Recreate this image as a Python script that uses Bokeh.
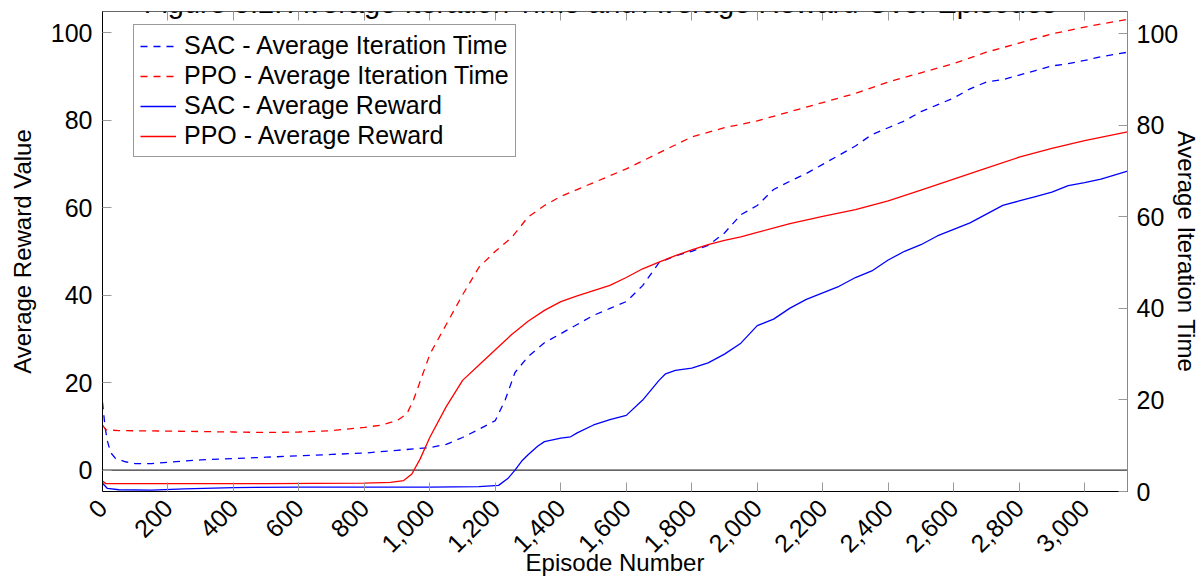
import math
from bokeh.plotting import figure
from bokeh.models import Range1d, LinearAxis, FixedTicker, NumeralTickFormatter, Span, Label
from bokeh.embed import file_html
from bokeh.resources import INLINE

# ---------------- data ----------------
title_text = "Figure 5.2: Average Iteration Time and Average Reward Over Episodes"

x_ticks = [0, 200, 400, 600, 800, 1000, 1200, 1400, 1600, 1800, 2000, 2200, 2400, 2600, 2800, 3000]
left_ticks = [0, 20, 40, 60, 80, 100]
right_ticks = [0, 20, 40, 60, 80, 100]

# SAC - Average Iteration Time (right axis)
sac_time_ep = [0, 8, 15, 25, 40, 70, 100, 150, 200, 300, 400, 500, 600, 700, 800, 900, 1000, 1050,
               1100, 1150, 1200, 1230, 1260, 1300, 1350, 1400, 1450, 1500, 1550, 1600, 1650, 1700,
               1750, 1800, 1850, 1900, 1950, 2000, 2050, 2100, 2150, 2200, 2250, 2300, 2350, 2400,
               2450, 2500, 2550, 2600, 2650, 2700, 2750, 2800, 2850, 2900, 2950, 3000, 3050, 3131]
sac_time = [19.5, 14.0, 11.0, 8.5, 7.2, 6.5, 6.1, 6.1, 6.4, 6.9, 7.2, 7.5, 7.8, 8.1, 8.4, 9.0, 9.6, 10.3,
            11.8, 13.6, 15.5, 20.0, 26.0, 29.5, 32.5, 34.5, 36.5, 38.5, 40.0, 41.5, 45.0, 50.0,
            51.5, 52.5, 53.8, 56.5, 60.5, 62.5, 66.0, 67.8, 69.5, 71.5, 73.5, 75.5, 78.0, 79.5,
            81.0, 83.0, 84.5, 86.0, 88.0, 89.5, 90.0, 91.0, 92.0, 93.0, 93.5, 94.2, 95.0, 96.0]

# PPO - Average Iteration Time (right axis)
ppo_time_ep = [0, 10, 50, 200, 400, 500, 600, 700, 800, 850, 900, 930, 950, 975, 1000, 1050, 1100,
               1150, 1200, 1250, 1300, 1350, 1400, 1500, 1600, 1700, 1800, 1900, 2000, 2100, 2200,
               2300, 2400, 2500, 2600, 2700, 2800, 2900, 3000, 3131]
ppo_time = [14.5, 13.5, 13.3, 13.2, 13.0, 12.9, 13.0, 13.3, 14.0, 14.5, 15.5, 17.0, 20.0, 25.0, 30.0,
            36.5, 43.0, 49.0, 52.5, 55.5, 60.0, 62.5, 64.5, 67.5, 70.5, 74.0, 77.5, 79.5, 81.0, 83.0,
            85.0, 87.0, 89.5, 91.5, 93.5, 96.0, 98.0, 100.0, 101.5, 103.2]

# SAC - Average Reward (left axis)
sac_reward_ep = [0, 15, 50, 150, 250, 400, 600, 800, 1000, 1150, 1210, 1240, 1260, 1280, 1300, 1330,
                 1350, 1400, 1430, 1450, 1500, 1550, 1600, 1650, 1700, 1720, 1750, 1800, 1850, 1900,
                 1950, 2000, 2050, 2100, 2150, 2200, 2250, 2300, 2350, 2400, 2450, 2500, 2550, 2600,
                 2650, 2700, 2750, 2800, 2850, 2900, 2950, 3000, 3050, 3131]
sac_reward = [-3.0, -4.2, -4.5, -4.6, -4.3, -4.0, -3.9, -3.9, -3.9, -3.8, -3.5, -1.8, 0.0, 2.0, 3.5, 5.5,
              6.5, 7.3, 7.6, 8.5, 10.3, 11.5, 12.5, 16.0, 20.5, 22.0, 22.8, 23.3, 24.5, 26.5,
              29.0, 33.0, 34.5, 37.0, 39.0, 40.5, 42.0, 44.0, 45.5, 48.0, 50.0, 51.5, 53.5, 55.0,
              56.5, 58.5, 60.5, 61.5, 62.5, 63.5, 65.0, 65.7, 66.5, 68.3]

# PPO - Average Reward (left axis)
ppo_reward_ep = [0, 10, 100, 500, 800, 880, 920, 945, 970, 1000, 1050, 1100, 1150, 1200, 1250, 1300,
                 1350, 1400, 1450, 1500, 1550, 1600, 1650, 1700, 1750, 1800, 1850, 1900, 1950, 2000,
                 2100, 2200, 2300, 2400, 2500, 2600, 2700, 2800, 2900, 3000, 3131]
ppo_reward = [-2.5, -3.1, -3.1, -3.1, -3.0, -2.8, -2.4, -0.9, 2.5, 7.5, 14.5, 20.5, 24.0, 27.5, 31.0,
              34.0, 36.5, 38.5, 39.8, 41.0, 42.2, 44.0, 46.0, 47.5, 49.0, 50.3, 51.5, 52.5, 53.3,
              54.3, 56.3, 58.0, 59.5, 61.5, 64.0, 66.5, 69.0, 71.5, 73.5, 75.3, 77.3]

zero_level = 0

x_limits = (0, 3131)
left_limits = (-4.9, 104.8)
right_limits = (0, 104.9)

# ---------------- figure ----------------
FONT = "Liberation Sans"
TICK_FS = "25px"
LABEL_FS = "24px"

p = figure(frame_width=1025, frame_height=480,
           min_border_left=102, min_border_right=40, min_border_top=11, min_border_bottom=60,
           x_range=Range1d(*x_limits), y_range=Range1d(*left_limits),
           output_backend="svg", toolbar_location=None)
p.extra_y_ranges = {"time": Range1d(*right_limits)}
p.grid.visible = False
p.outline_line_color = "#666666"
p.outline_line_width = 1
p.background_fill_color = "white"
p.border_fill_color = "white"


def style_axis(ax):
    ax.major_tick_in = 9
    ax.major_tick_out = 0
    ax.minor_tick_in = 0
    ax.minor_tick_out = 0
    ax.major_tick_line_color = "#9a9a9a"
    ax.major_tick_line_width = 1
    ax.major_label_text_font = FONT
    ax.major_label_text_font_size = TICK_FS
    ax.major_label_text_color = "black"
    ax.axis_label_text_font = FONT
    ax.axis_label_text_font_size = LABEL_FS
    ax.axis_label_text_font_style = "normal"
    ax.axis_label_text_color = "black"


xa = p.xaxis[0]
style_axis(xa)
xa.ticker = FixedTicker(ticks=x_ticks)
xa.formatter = NumeralTickFormatter(format="0,0")
xa.major_label_orientation = math.pi / 4
xa.major_label_standoff = 12
xa.axis_label = "Episode Number"
xa.axis_label_standoff = -14
xa.axis_line_color = "black"

ya = p.yaxis[0]
style_axis(ya)
ya.ticker = FixedTicker(ticks=left_ticks)
ya.major_label_standoff = 10
ya.axis_label = "Average Reward Value"
ya.axis_label_standoff = 12
ya.axis_line_color = "black"

ra = LinearAxis(y_range_name="time", ticker=FixedTicker(ticks=right_ticks))
style_axis(ra)
ra.major_label_standoff = 9
ra.axis_label = "Average Iteration Time"
ra.axis_label_standoff = -8
ra.axis_line_color = "#888888"
p.add_layout(ra, "right")

# top axis: tick marks only (labels not drawn)
ta = LinearAxis(ticker=FixedTicker(ticks=x_ticks))
style_axis(ta)
ta.major_label_text_font_size = "1px"
ta.major_label_text_color = None
ta.major_label_standoff = 0
ta.axis_line_color = None
p.add_layout(ta, "above")

p.add_layout(Span(location=zero_level, dimension="width", line_color="#333333",
                  line_width=1.2, level="underlay"))

p.line(sac_time_ep, sac_time, y_range_name="time", line_color="#0000ff", line_width=1.3,
       line_dash="7 6", legend_label="SAC - Average Iteration Time")
p.line(ppo_time_ep, ppo_time, y_range_name="time", line_color="#ff0000", line_width=1.3,
       line_dash="7 6", legend_label="PPO - Average Iteration Time")
p.line(sac_reward_ep, sac_reward, line_color="#0000ff", line_width=1.3,
       legend_label="SAC - Average Reward")
p.line(ppo_reward_ep, ppo_reward, line_color="#ff0000", line_width=1.3,
       legend_label="PPO - Average Reward")

lg = p.legend[0]
lg.location = (31, 334)
lg.label_text_font = FONT
lg.label_text_font_size = TICK_FS
lg.label_text_color = "black"
lg.glyph_width = 36
lg.glyph_height = 24
lg.label_height = 24
lg.label_standoff = 8
lg.spacing = 1
lg.padding = 6
lg.margin = 0
lg.border_line_color = "#333333"
lg.border_line_width = 1
lg.background_fill_color = "white"
lg.background_fill_alpha = 1

# title sits above the frame and, as in the reference, is partly cut by the page top
p.add_layout(Label(x=(x_limits[0] + x_limits[1]) / 2, y=left_limits[1], x_offset=-13, y_offset=9,
                   text=title_text, text_align="center", text_baseline="alphabetic",
                   text_font=FONT, text_font_size="29px", text_color="black"))

open("out.html", "w").write(file_html(p, INLINE))
